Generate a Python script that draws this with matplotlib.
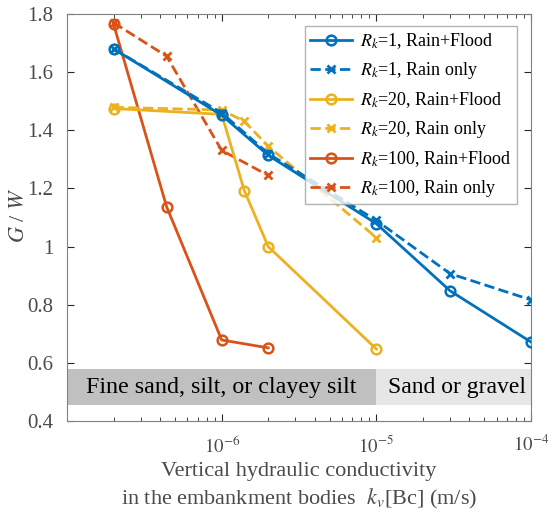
import matplotlib
matplotlib.use("Agg")
import matplotlib.pyplot as plt
from matplotlib.ticker import LogLocator, NullFormatter, FixedLocator, FixedFormatter

plt.rcParams['font.family'] = ['Liberation Serif', 'DejaVu Serif']
plt.rcParams['mathtext.fontset'] = 'stix'

# Data
k_rk1 = [2e-7, 1e-6, 2e-6, 1e-5, 3e-5, 1e-4]
gw_rk1_flood = [1.68, 1.452, 1.314, 1.079, 0.848, 0.672]
gw_rk1_rain = [1.68, 1.46, 1.32, 1.09, 0.907, 0.817]

k_rk20 = [2e-7, 1e-6, 1.4e-6, 2e-6, 1e-5]
gw_rk20_flood = [1.475, 1.455, 1.193, 1.0, 0.648]
gw_rk20_rain = [1.479, 1.47, 1.431, 1.345, 1.031]

k_rk100 = [2e-7, 4.4e-7, 1e-6, 2e-6]
gw_rk100_flood = [1.765, 1.138, 0.679, 0.652]
gw_rk100_rain = [1.77, 1.655, 1.331, 1.245]

labels = ['$R_k$=1, Rain+Flood', '$R_k$=1, Rain only',
          '$R_k$=20, Rain+Flood', '$R_k$=20, Rain only',
          '$R_k$=100, Rain+Flood', '$R_k$=100, Rain only']

band_labels = ['Fine sand, silt, or clayey silt', 'Sand or gravel']
band_edges = [1e-7, 1e-5, 1e-4]
band_y = [0.455, 0.578]

blue = '#0072BD'
yellow = '#EDB120'
red = '#D95319'
gray = '#262626'

fig = plt.figure(figsize=(5.48, 5.18), dpi=100)
ax = fig.add_axes([0.1223, 0.187, 0.8467, 0.786])

# Bands
ax.fill_between([band_edges[0], band_edges[1]], band_y[0], band_y[1], color='#c0c0c0', lw=0, zorder=1)
ax.fill_between([band_edges[1], band_edges[2]], band_y[0], band_y[1], color='#e6e6e6', lw=0, zorder=1)
ax.text(1.0e-6, (band_y[0] + band_y[1]) / 2, band_labels[0], fontsize=17.3, ha='center', va='center', color='black', zorder=2)
ax.text(3.3e-5, (band_y[0] + band_y[1]) / 2, band_labels[1], fontsize=17.0, ha='center', va='center', color='black', zorder=2)

lw = 2.0
ms_o = 7
ms_x = 6
ax.plot(k_rk1, gw_rk1_flood, '-o', color=blue, lw=lw, ms=ms_o, mfc='none', mew=1.8, label=labels[0], zorder=5)
ax.plot(k_rk1, gw_rk1_rain, '--x', color=blue, lw=lw, ms=ms_x, mew=2, label=labels[1], zorder=5)
ax.plot(k_rk20, gw_rk20_flood, '-o', color=yellow, lw=lw, ms=ms_o, mfc='none', mew=1.8, label=labels[2], zorder=4)
ax.plot(k_rk20, gw_rk20_rain, '--x', color=yellow, lw=lw, ms=ms_x, mew=2, label=labels[3], zorder=4)
ax.plot(k_rk100, gw_rk100_flood, '-o', color=red, lw=lw, ms=ms_o, mfc='none', mew=1.8, label=labels[4], zorder=3)
ax.plot(k_rk100, gw_rk100_rain, '--x', color=red, lw=lw, ms=ms_x, mew=2, label=labels[5], zorder=3)

ax.set_xscale('log')
ax.set_xlim(1e-7, 1e-4)
ax.set_ylim(0.4, 1.8)

ax.xaxis.set_major_locator(FixedLocator([1e-6, 1e-5, 1e-4]))
ax.xaxis.set_major_formatter(FixedFormatter(['$10^{-6}$', '$10^{-5}$', '$10^{-4}$']))
ax.xaxis.set_minor_locator(LogLocator(base=10, subs=range(2, 10)))
ax.xaxis.set_minor_formatter(NullFormatter())
ax.set_yticks([0.4, 0.6, 0.8, 1.0, 1.2, 1.4, 1.6, 1.8])
ax.set_yticklabels(['0.4', '0.6', '0.8', '1', '1.2', '1.4', '1.6', '1.8'])

ax.tick_params(which='both', direction='in', top=True, right=True, colors=gray, labelsize=15, labelcolor='#4a4a4a')
ax.tick_params(axis='x', which='major', labelsize=13.5)
ax.tick_params(which='major', length=5, width=0.8)
ax.tick_params(which='minor', length=3, width=0.6)
ax.tick_params(axis='x', which='major', pad=10)
ax.tick_params(axis='y', which='major', pad=10)
for s in ax.spines.values():
    s.set_color('#808080')
    s.set_linewidth(0.8)

ax.set_ylabel('$G$ / $W$', fontsize=16, color='#4a4a4a')
ax.yaxis.set_label_coords(-0.082, 0.506)
ax.set_xlabel('Vertical hydraulic conductivity\nin the embankment bodies  $k_v$[Bc] (m/s)', fontsize=16, color='#4a4a4a', labelpad=4, linespacing=1.3)

leg = ax.legend(loc='upper right', bbox_to_anchor=(0.970, 0.9705), borderaxespad=0, fontsize=13, frameon=True, fancybox=False,
                edgecolor='#a0a0a0', handlelength=2.3, labelspacing=0.5, borderpad=0.3, handletextpad=0.45)
leg.get_frame().set_linewidth(1.0)

fig.savefig('out.png', dpi=100)
